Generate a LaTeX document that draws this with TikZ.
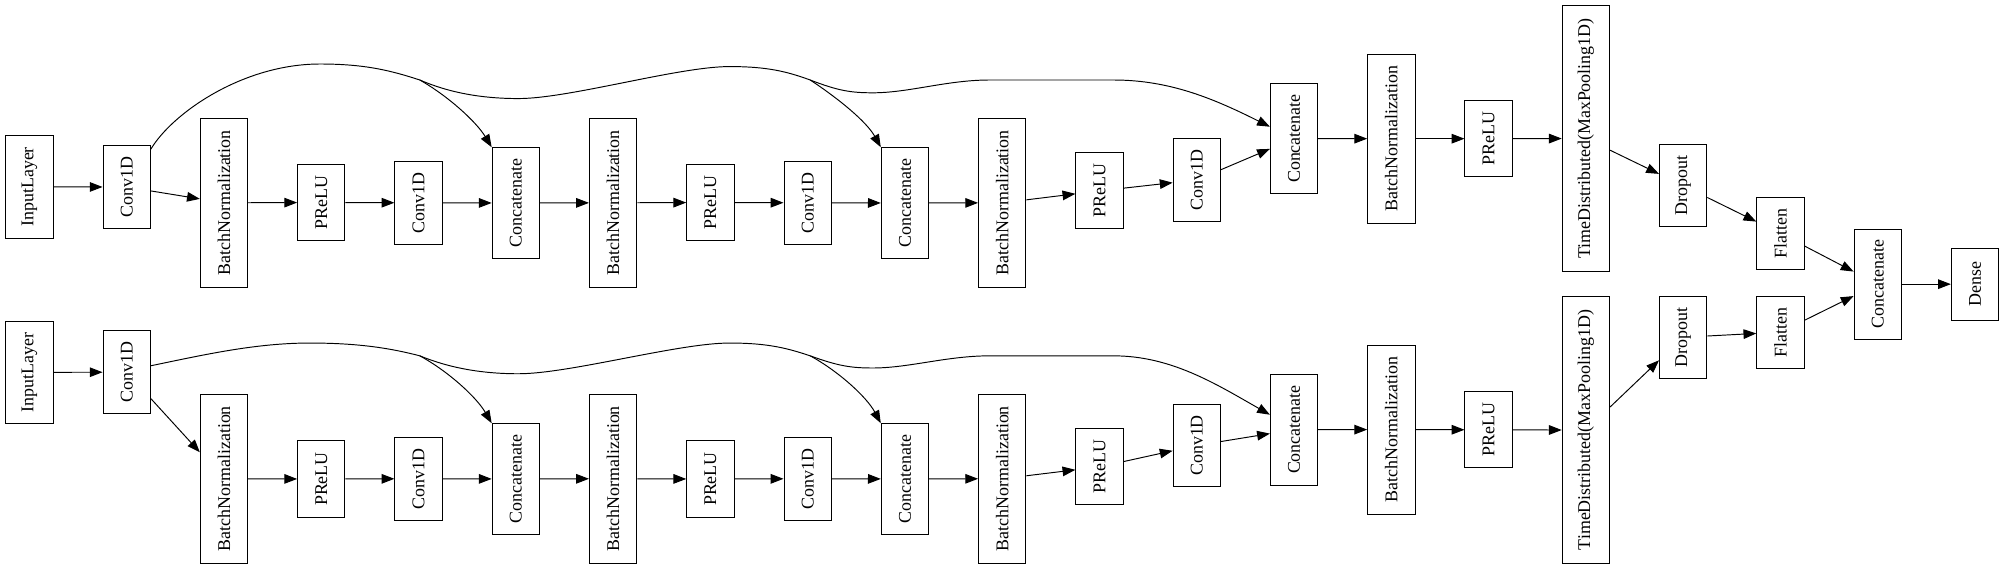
\documentclass[tikz,border=0pt]{standalone}
\usepackage{fontspec}
\setmainfont{Liberation Serif}
\usetikzlibrary{arrows.meta}
\tikzset{
  lay/.style={draw=black, line width=0.75pt, minimum width=37pt, inner sep=0pt, font=\fontsize{14}{16}\selectfont},
  edg/.style={line width=0.75pt, -{Triangle[length=10pt,width=7.5pt]}},
  trunk/.style={line width=0.75pt},
}
\newcommand\lyr[5]{\node[lay,minimum height=#4pt] (#1) at (#2,#3) {\rotatebox{90}{#5}};}
\begin{document}
\begin{tikzpicture}[x=1pt,y=-1pt]
\useasboundingbox (0,0) rectangle (1568,445);
% ---------- top row ----------
\lyr{in1}{23}{146}{80}{InputLayer}
\lyr{c1}{99}{146.1}{64.5}{Conv1D}
\lyr{bn1}{175}{158.45}{132}{BatchNormalization}
\lyr{p1}{251}{158.2}{59.5}{PReLU}
\lyr{c2}{327}{158.45}{64.5}{Conv1D}
\lyr{cc1}{403}{158.6}{86.4}{Concatenate}
\lyr{bn2}{479}{158.45}{132}{BatchNormalization}
\lyr{p2}{555}{158.2}{59.5}{PReLU}
\lyr{c3}{631}{158.45}{64.5}{Conv1D}
\lyr{cc2}{707}{158.6}{86.4}{Concatenate}
\lyr{bn3}{783}{158.45}{132}{BatchNormalization}
\lyr{p3}{859}{149.1}{59.5}{PReLU}
\lyr{c4}{935}{140.6}{64.5}{Conv1D}
\lyr{cc3}{1011}{108.3}{86.4}{Concatenate}
\lyr{bn4}{1087}{108.35}{132}{BatchNormalization}
\lyr{p4}{1163}{108.35}{59.5}{PReLU}
\lyr{td}{1239}{108.2}{208}{TimeDistributed(MaxPooling1D)}
\lyr{dr}{1315}{145}{64.5}{Dropout}
\lyr{fl}{1391}{182.4}{56}{Flatten}
% ---------- shared ----------
\lyr{ccf}{1467}{222}{86}{Concatenate}
\lyr{de}{1543}{222}{56}{Dense}
% ---------- bottom row ----------
\lyr{in1b}{23}{290.9}{80}{InputLayer}
\lyr{c1b}{99}{290.75}{64.5}{Conv1D}
\lyr{bn1b}{175}{374}{132}{BatchNormalization}
\lyr{p1b}{251}{374.25}{59.5}{PReLU}
\lyr{c2b}{327}{374}{64.5}{Conv1D}
\lyr{cc1b}{403}{374.2}{86.4}{Concatenate}
\lyr{bn2b}{479}{374}{132}{BatchNormalization}
\lyr{p2b}{555}{374.25}{59.5}{PReLU}
\lyr{c3b}{631}{374}{64.5}{Conv1D}
\lyr{cc2b}{707}{374.2}{86.4}{Concatenate}
\lyr{bn3b}{783}{374}{132}{BatchNormalization}
\lyr{p3b}{859}{364.75}{59.5}{PReLU}
\lyr{c4b}{935}{348}{64.5}{Conv1D}
\lyr{cc3b}{1011}{335.7}{86.4}{Concatenate}
\lyr{bn4b}{1087}{335.6}{132}{BatchNormalization}
\lyr{p4b}{1163}{335.8}{59.5}{PReLU}
\lyr{tdb}{1239}{336}{208}{TimeDistributed(MaxPooling1D)}
\lyr{drb}{1315}{263.5}{64.5}{Dropout}
\lyr{flb}{1391}{259.5}{56}{Flatten}
% ---------- straight edges ----------
\foreach \a/\b in {in1/c1,c1/bn1,bn1/p1,p1/c2,c2/cc1,cc1/bn2,bn2/p2,p2/c3,c3/cc2,cc2/bn3,bn3/p3,p3/c4,c4/cc3,cc3/bn4,bn4/p4,p4/td,td/dr,dr/fl,fl/ccf,ccf/de,
  in1b/c1b,c1b/bn1b,bn1b/p1b,p1b/c2b,c2b/cc1b,cc1b/bn2b,bn2b/p2b,p2b/c3b,c3b/cc2b,cc2b/bn3b,bn3b/p3b,p3b/c4b,c4b/cc3b,cc3b/bn4b,bn4b/p4b,p4b/tdb,tdb/drb,drb/flb,flb/ccf}
  \draw[edg] (\a) -- (\b);
% ---------- skip connections, top ----------
\coordinate (pk1) at (250,50);
\coordinate (j1) at (328,62.5);
\coordinate (t1) at (405,77);
\coordinate (pk2) at (570,52);
\coordinate (j2) at (633,62.5);
\coordinate (t2) at (682,72.5);
\coordinate (f1) at (773,62.5);
\coordinate (f2) at (870,62.5);
\draw[trunk] ([yshift=-3pt]c1.north east) .. controls (135,88) and (190,50) .. (pk1) .. controls (285,50) and (305,55) .. (j1);
\draw[edg] (j1) .. controls (350,75) and (372,95) .. (cc1.north west);
\draw[trunk] (j1) .. controls (350,72) and (375,77) .. (t1) .. controls (445,77) and (530,52) .. (pk2) .. controls (600,52) and (615,56) .. (j2);
\draw[edg] (j2) .. controls (655,77) and (677,95) .. (cc2.north west);
\draw[edg] (j2) .. controls (655,71) and (665,72.5) .. (t2) .. controls (710,72.5) and (740,62.5) .. (f1) -- (f2) .. controls (915,62.5) and (950,78) .. ([yshift=9.3pt]cc3.west);
% ---------- skip connections, bottom ----------
\coordinate (pk1b) at (242,268);
\coordinate (j1b) at (328,278);
\coordinate (t1b) at (405,292);
\coordinate (pk2b) at (570,268);
\coordinate (j2b) at (633,278);
\coordinate (t2b) at (682,287.5);
\coordinate (f1b) at (773,278);
\coordinate (f2b) at (870,278);
\draw[trunk] ([yshift=5pt]c1b.east) .. controls (160,277) and (200,268) .. (pk1b) .. controls (280,268) and (305,272) .. (j1b);
\draw[edg] (j1b) .. controls (350,290) and (372,310) .. (cc1b.north west);
\draw[trunk] (j1b) .. controls (350,287) and (375,292) .. (t1b) .. controls (445,292) and (530,268) .. (pk2b) .. controls (600,268) and (615,272) .. (j2b);
\draw[edg] (j2b) .. controls (655,290) and (677,310) .. (cc2b.north west);
\draw[edg] (j2b) .. controls (655,286) and (665,287.5) .. (t2b) .. controls (710,287.5) and (740,278) .. (f1b) -- (f2b) .. controls (915,278) and (950,300) .. ([yshift=11.7pt]cc3b.west);
\end{tikzpicture}
\end{document}
